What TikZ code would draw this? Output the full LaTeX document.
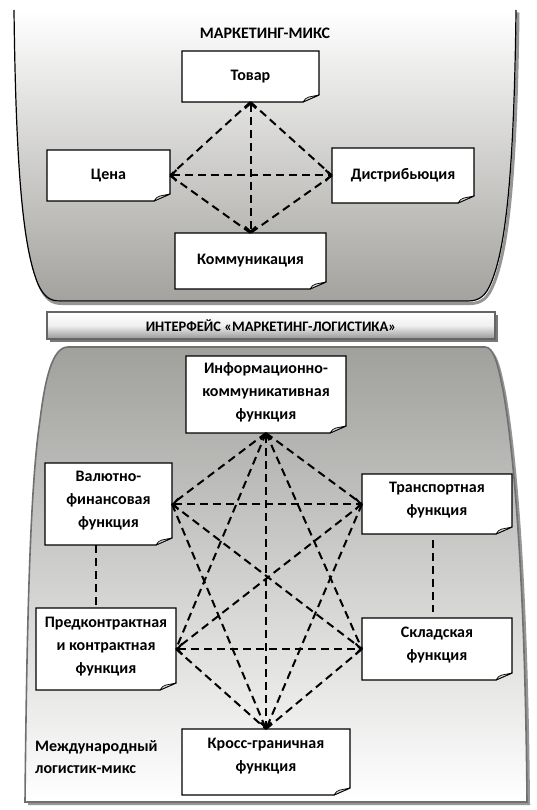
\documentclass[tikz,border=0pt]{standalone}
\usepackage{fontspec}
\setmainfont{Carlito}
\usetikzlibrary{arrows.meta,calc}
\definecolor{topgray}{RGB}{163,162,158}
\definecolor{botgray}{RGB}{160,160,157}
\definecolor{edgegray}{RGB}{112,112,112}
\definecolor{shadowgray}{RGB}{150,150,150}
\definecolor{foldgray}{RGB}{215,215,215}
\definecolor{bargray}{RGB}{150,150,150}
\newcommand\notebox[7][0]{%
  \path[fill=white, draw=black, line width=1.1pt, line join=miter]
    (#3,#4) -- (#5,#4) -- (#5,#6-7) -- (#5-16,#6) -- (#3,#6) -- cycle;
  \path[fill=foldgray, draw=black, line width=0.7pt, line join=round]
    (#5-16,#6) .. controls (#5-13,#6-4) .. (#5-10,#6-5) -- (#5,#6-7) -- cycle;
  \node[boxarea, minimum width={(#5-#3)*1pt}, minimum height={(#6-#4)*1pt}]
    (#2) at ({(#3+#5)/2},{(#4+#6)/2}) {};
  \node[boxtext] (#2-t) at ([yshift=#1pt]#2.center) {#7};
}
\begin{document}
\begin{tikzpicture}[x=1pt,y=-1pt,
  conn/.style={line width=2pt, dash pattern=on 8pt off 5pt, black},
  biarr/.style={conn, {Straight Barb[length=5pt,width=11pt]}-{Straight Barb[length=5pt,width=11pt]}},
  boxarea/.style={inner sep=0pt, outer sep=0pt, draw=none, rectangle},
  boxtext/.style={font=\fontsize{16}{23}\selectfont\bfseries, align=center, inner sep=0pt},
  titletext/.style={font=\fontsize{16}{20}\selectfont\bfseries, inner sep=0pt}
]
\useasboundingbox (0,0) rectangle (536,810);
\fill[white] (0,0) rectangle (536,810);

% ---------- top container ----------
\draw[shadowgray, line width=3pt, shift={(2,2.5)}]
  (14,10) .. controls (16,180) and (24,250) .. (38,284)
  .. controls (44,297) and (50,301) .. (60,301) -- (468,301)
  .. controls (480,301) and (486,295) .. (491,283)
  .. controls (505,250) and (514,180) .. (516,10);
\shade[top color=white, bottom color=topgray]
  (14,10) .. controls (16,180) and (24,250) .. (38,284)
  .. controls (44,297) and (50,301) .. (60,301) -- (468,301)
  .. controls (480,301) and (486,295) .. (491,283)
  .. controls (505,250) and (514,180) .. (516,10) -- cycle;
\draw[black, line width=1.2pt]
  (14,10) .. controls (16,180) and (24,250) .. (38,284)
  .. controls (44,297) and (50,301) .. (60,301) -- (468,301)
  .. controls (480,301) and (486,295) .. (491,283)
  .. controls (505,250) and (514,180) .. (516,10);

% ---------- interface bar ----------
\fill[bargray!80!black] (50,315) rectangle (498,342);
\shade[top color=white, bottom color=bargray, middle color=white!85!bargray]
  (47,312) rectangle (495,339);
\draw[edgegray!90!black, line width=1.8pt] (47,312) rectangle (495,339);
\node[font=\fontsize{14.5}{17}\selectfont\bfseries, inner sep=0pt] (iface) at (271,326)
  {ИНТЕРФЕЙС «МАРКЕТИНГ-ЛОГИСТИКА»};

% ---------- bottom container ----------
\fill[shadowgray, shift={(3,3)}]
  (25,802) .. controls (27,600) and (31,480) .. (40,420)
  .. controls (45,380) and (52,347) .. (68,347) -- (485,347)
  .. controls (494,347) and (498,365) .. (503,390)
  .. controls (512,440) and (525,560) .. (527,802) -- cycle;
\shade[top color=botgray, bottom color=white]
  (25,802) .. controls (27,600) and (31,480) .. (40,420)
  .. controls (45,380) and (52,347) .. (68,347) -- (485,347)
  .. controls (494,347) and (498,365) .. (503,390)
  .. controls (512,440) and (525,560) .. (527,802) -- cycle;
\draw[edgegray, line width=1.6pt]
  (25,802) .. controls (27,600) and (31,480) .. (40,420)
  .. controls (45,380) and (52,347) .. (68,347) -- (485,347)
  .. controls (494,347) and (498,365) .. (503,390)
  .. controls (512,440) and (525,560) .. (527,802) -- cycle;

% ---------- titles ----------
\node[titletext] (title) at (265,33) {МАРКЕТИНГ-МИКС};
\node[font=\fontsize{16}{22}\selectfont\bfseries, align=left, inner sep=0pt, anchor=west]
  (mix) at (35,757) {Международный\\логистик-микс};

% ---------- top boxes ----------
\notebox{tov}{182}{51}{319}{102}{Товар}
\notebox{cena}{47}{150}{170}{201}{Цена}
\notebox{dist}{332}{148}{474}{203}{Дистрибьюция}
\notebox{komm}{175}{233}{326}{289}{Коммуникация}

% ---------- bottom boxes ----------
\notebox[2]{info}{186}{356}{346}{433}{Информационно-\\коммуникативная\\функция}
\notebox[3]{val}{45}{463}{172}{545}{Валютно-\\финансовая\\функция}
\notebox[4]{trans}{362}{474}{512}{534}{Транспортная\\функция}
\notebox[2]{pred}{36}{608}{176}{690}{Предконтрактная\\и контрактная\\функция}
\notebox[4]{sklad}{362}{618}{512}{680}{Складская\\функция}
\notebox[6]{kross}{182}{729}{350}{795}{Кросс-граничная\\функция}

% ---------- top connectors ----------
\draw[biarr] (tov.south) -- (komm.north);
\draw[biarr] (cena.east) -- (dist.west);
\draw[conn] (tov.south) -- (cena.east);
\draw[conn] (tov.south) -- (dist.west);
\draw[conn] (cena.east) -- (komm.north);
\draw[conn] (dist.west) -- (komm.north);

% ---------- bottom connectors ----------
\coordinate (vpx) at (96,0);
\coordinate (tsx) at (433,0);
\draw[biarr] (info.south) -- (kross.north);
\draw[biarr] (val.east) -- (trans.west);
\draw[biarr] (pred.east) -- (sklad.west);
\draw[conn] (info.south) -- (val.east);
\draw[conn] (info.south) -- (trans.west);
\draw[conn] (info.south) -- (pred.east);
\draw[conn] (info.south) -- (sklad.west);
\draw[conn] (val.east) -- (sklad.west);
\draw[conn] (val.east) -- (kross.north);
\draw[conn] (trans.west) -- (pred.east);
\draw[conn] (trans.west) -- (kross.north);
\draw[conn] (pred.east) -- (kross.north);
\draw[conn] (sklad.west) -- (kross.north);
\draw[conn] (val.south -| vpx) -- (pred.north -| vpx);
\draw[conn, shorten <=6pt, shorten >=6pt] (trans.south -| tsx) -- (sklad.north -| tsx);
\end{tikzpicture}
\end{document}
